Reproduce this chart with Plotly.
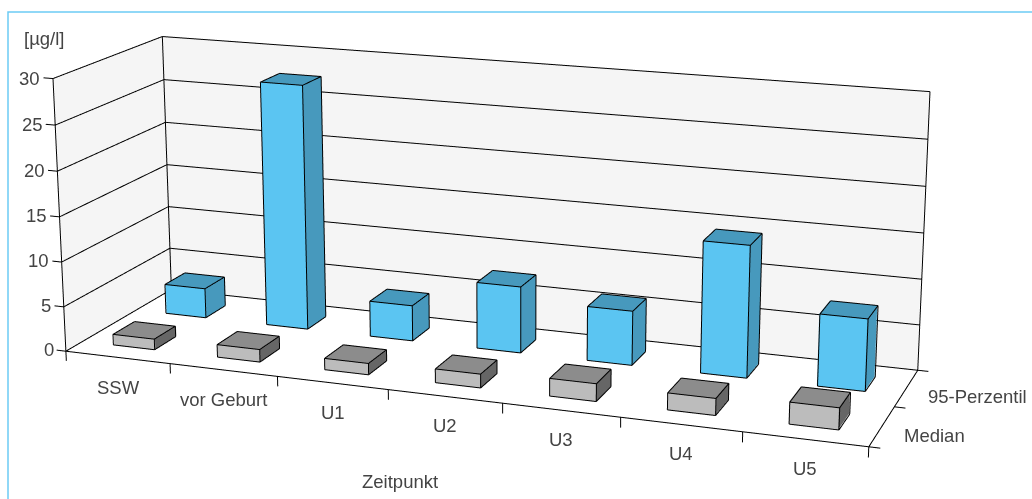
import numpy as np
import plotly.graph_objects as go

categories = ["SSW", "vor Geburt", "U1", "U2", "U3", "U4", "U5"]
series_names = ["Median", "95-Perzentil"]
median_values = [1.2, 1.4, 1.25, 1.5, 1.9, 1.8, 2.3]
p95_values = [3.4, 27.6, 4.0, 7.4, 6.0, 14.4, 7.8]
z_ticks = [0, 5, 10, 15, 20, 25, 30]

# The reference is a long-lens view; Plotly's field of view is fixed, so the figure
# is drawn larger than the window and the window shows the part holding the chart.
FIG_W, FIG_H = 2400, 2088
OFF_X, OFF_Y = FIG_W/2-510, FIG_H/2-211
RX = [-0.5, 7.7]; RY = [-0.1, 2.1]; RZ = [-3.0, 31.0]
ex,ey,ez = 3.2275,-8.8395,2.5937
cx,cy,cz = 0.0079,0.1173,0.0677
u,sx,sz = -0.0002,0.4609,0.0368
sy = 1/(RY[1]-RY[0])

# toward-camera shift so that edges sit in front of the faces they outline
view=np.array([ex-cx,ey-cy,ez-cz]); view/=np.linalg.norm(view)
shift=0.02*view/np.array([sx,sy,sz])

def px(x): return (x+OFF_X)/FIG_W
def py(y): return 1-(y+OFF_Y)/FIG_H

fig=go.Figure()
def quad(pts,color):
    xs,ys,zs=zip(*pts)
    fig.add_trace(go.Mesh3d(x=xs,y=ys,z=zs,i=[0,0],j=[1,2],k=[2,3],color=color,flatshading=True,
        lighting=dict(ambient=1,diffuse=0,specular=0,fresnel=0),hoverinfo="skip",showscale=False))
def lines(segs,color="#000",width=2):
    xs,ys,zs=[],[],[]
    for a,b in segs:
        a=np.array(a)+shift; b=np.array(b)+shift
        xs+=[a[0],b[0],None]; ys+=[a[1],b[1],None]; zs+=[a[2],b[2],None]
    fig.add_trace(go.Scatter3d(x=xs,y=ys,z=zs,mode="lines",line=dict(color=color,width=width),hoverinfo="skip",showlegend=False))
n=len(categories)
quad([(0,2,0),(n,2,0),(n,2,30),(0,2,30)],"#f5f5f5")
quad([(0,0,0),(0,2,0),(0,2,30),(0,0,30)],"#f5f5f5")
segs=[]
for z in z_ticks:
    segs+=[((-0.09,0,z),(0,0,z)),((0,0,z),(0,2,z)),((0,2,z),(n,2,z))]
segs+=[((0,0,0),(0,0,30)),((0,2,0),(0,2,30)),((n,2,0),(n,2,30)),((0,0,0),(n,0,0)),((n,0,0),(n,2,0))]
for i in range(n+1): segs.append(((i,0,0),(i,0,-1.1)))
for j in range(3): segs.append(((n,j,0),(n+0.09,j,0)))
lines(segs)
def bar(i,y0,y1,h,cf,ct,cs):
    x0,x1=i+0.3,i+0.7
    quad([(x0,y0,0),(x1,y0,0),(x1,y0,h),(x0,y0,h)],cf)
    quad([(x0,y0,h),(x1,y0,h),(x1,y1,h),(x0,y1,h)],ct)
    quad([(x1,y0,0),(x1,y1,0),(x1,y1,h),(x1,y0,h)],cs)
    lines([((x0,y0,0),(x1,y0,0)),((x1,y0,0),(x1,y1,0)),((x1,y1,0),(x1,y1,h)),((x1,y1,h),(x0,y1,h)),((x0,y1,h),(x0,y0,h)),
           ((x0,y0,h),(x0,y0,0)),((x1,y0,0),(x1,y0,h)),((x0,y0,h),(x1,y0,h)),((x1,y0,h),(x1,y1,h))])
for i in range(n):
    bar(i,0.3,0.7,median_values[i],"#bcbcbc","#8c8c8c","#666666")
    bar(i,1.3,1.7,p95_values[i],"#5bc5f2","#4799bd","#4799bd")
font=dict(family="Liberation Sans",size=18.5,color="#444")
ann=[dict(x=i+0.5,y=0,z=0,text=c,showarrow=False,font=font,xshift=0,yshift=-30) for i,c in enumerate(categories)]
ann+=[dict(x=-0.09,y=0,z=t,text=str(t),showarrow=False,font=font,xanchor="right",xshift=-2) for t in z_ticks]
ann+=[dict(x=n+0.09,y=j+0.5,z=0,text=s,showarrow=False,font=font,xanchor="left",xshift=10,yshift=-8) for j,s in enumerate(series_names)]
ax=dict(visible=False,showgrid=False,zeroline=False,showspikes=False)
fig.update_layout(width=FIG_W,height=FIG_H,margin=dict(l=0,r=0,t=0,b=0),paper_bgcolor="white",showlegend=False,
  scene=dict(domain=dict(x=[0,1],y=[0,1]),bgcolor="rgba(0,0,0,0)",aspectmode="manual",dragmode="orbit",
    aspectratio=dict(x=sx*(RX[1]-RX[0]),y=sy*(RY[1]-RY[0]),z=sz*(RZ[1]-RZ[0])),
    camera=dict(eye=dict(x=ex,y=ey,z=ez),center=dict(x=cx,y=cy,z=cz),up=dict(x=u,y=0,z=1),projection=dict(type="perspective")),
    xaxis=dict(ax,range=RX),yaxis=dict(ax,range=RY),zaxis=dict(ax,range=RZ),annotations=ann),
  shapes=[dict(type="rect",xref="paper",yref="paper",x0=px(8),x1=px(1100),y0=py(560),y1=py(12),line=dict(color="#6ccbf5",width=1.5))],
  annotations=[dict(xref="paper",yref="paper",x=px(44),y=py(38),xanchor="center",yanchor="middle",text="[µg/l]",showarrow=False,font=font),
    dict(xref="paper",yref="paper",x=px(400),y=py(481),xanchor="center",yanchor="middle",text="Zeitpunkt",showarrow=False,font=font)])
post=f"""document.documentElement.style.overflow='hidden';document.body.style.overflow='hidden';document.body.style.margin='0';
var gd=document.getElementsByClassName('plotly-graph-div')[0];gd.style.position='absolute';gd.style.left='{-OFF_X}px';gd.style.top='{-OFF_Y}px';"""
fig.write_html("out.html",config=dict(displayModeBar=False),post_script=post)
